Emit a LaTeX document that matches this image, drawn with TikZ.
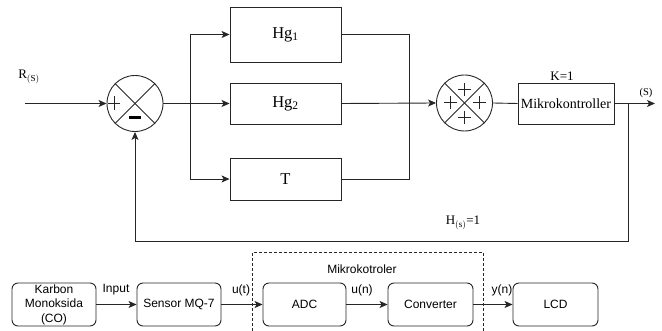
\documentclass[tikz,border=0pt]{standalone}
\usepackage{fontspec}
\setmainfont{Liberation Serif}
\setsansfont{Liberation Sans}
\usetikzlibrary{arrows.meta}
\tikzset{
  line/.style={line width=0.9pt, draw=black!85},
  arr/.style={line, -{Stealth[length=8pt,width=7pt,inset=2pt]}},
  sumc/.style={circle, line, minimum size=56pt, inner sep=0pt},
  tf/.style={rectangle, line, inner sep=0pt, font=\fontsize{16.5}{18}\selectfont},
  rbox/.style={rectangle, rounded corners=6pt, line, minimum width=84pt, minimum height=43pt, inner sep=0pt, align=center, font=\sffamily\fontsize{12}{14.5}\selectfont},
  lbl/.style={inner sep=0pt, font=\sffamily\fontsize{12}{14}\selectfont},
  slbl/.style={inner sep=0pt, font=\fontsize{13}{14}\selectfont},
  pm/.style={line width=1pt, draw=black!85}
}
\begin{document}
\begin{tikzpicture}[x=1pt,y=-1pt]
\useasboundingbox (0,0) rectangle (662,331);
% summing junctions
\node[sumc] (s1) at (135,103.5) {};
\draw[line] (s1.north west) -- (s1.south east);
\draw[line] (s1.north east) -- (s1.south west);
\draw[pm] (114,103.5) ++(-6,0) -- ++(12,0) ++(-6,-7) -- ++(0,14);
\draw[line width=2.2pt] (129,117.5) -- (141,117.5);
\node[sumc] (s2) at (464.5,103) {};
\draw[line] (s2.north west) -- (s2.south east);
\draw[line] (s2.north east) -- (s2.south west);
\draw[pm] (464.5,89.5) ++(-6.5,0) -- ++(13,0) ++(-6.5,-6.5) -- ++(0,13);
\draw[pm] (450,103) ++(-6.5,0) -- ++(13,0) ++(-6.5,-6.5) -- ++(0,13);
\draw[pm] (479,103) ++(-6.5,0) -- ++(13,0) ++(-6.5,-6.5) -- ++(0,13);
\draw[pm] (464.5,117.5) ++(-6.5,0) -- ++(13,0) ++(-6.5,-6.5) -- ++(0,13);
% blocks
\node[tf, minimum width=111pt, minimum height=55pt] (h1) at (285.5,34.5) {Hg$_{\mathrm{1}}$};
\node[tf, minimum width=111pt, minimum height=41pt] (h2) at (285.5,103.5) {Hg$_{\mathrm{2}}$};
\node[tf, minimum width=111pt, minimum height=42pt] (t) at (285.5,179) {T};
\node[rectangle, line, minimum width=96pt, minimum height=41pt, inner sep=0pt, font=\fontsize{14}{15}\selectfont] (mk) at (566,103.5) {Mikrokontroller};
% labels
\node[slbl] (rl) at (29,77) {R$_{\mathrm{(S)}}$};
\node[slbl] (kl) at (562,76) {K=1};
\node[inner sep=0pt, font=\fontsize{10.5}{11}\selectfont] (sl) at (646,93) {(S)};
\node[slbl] (hl) at (463,223) {H$_{\mathrm{(s)}}$=1};
% coordinates
\coordinate (inR) at (25,103.5);
\coordinate (b) at (190,103.5);
\coordinate (m) at (409,103.5);
\coordinate (tk) at (628,103.5);
\coordinate (out) at (655,103.5);
\coordinate (fb) at (628,241);
% connectors
\draw[arr] (inR) -- (s1.west);
\draw[line] (s1.east) -- (b);
\draw[arr] (b) |- (h1.west);
\draw[arr] (b) -- (h2.west);
\draw[arr] (b) |- (t.west);
\draw[line] (h1.east) -| (m);
\draw[line] (t.east) -| (m);
\draw[arr] (h2.east) -- (s2.west);
\draw[line] (s2.east) -- (mk.west);
\draw[arr] (mk.east) -- (out);
\draw[arr] (tk) -- (fb) -| (s1.south);
% bottom
\node[rbox] (co) at (54,304.5) {Karbon\\Monoksida\\(CO)};
\node[rbox] (sen) at (179,304.5) {Sensor MQ-7};
\node[rbox, minimum width=83pt] (adc) at (304.5,304.5) {ADC};
\node[rbox, minimum width=85pt] (conv) at (430.5,304.5) {Converter};
\node[rbox, minimum width=85pt] (lcd) at (555.5,304.5) {LCD};
\draw[arr] (co) -- (sen);
\draw[arr] (sen) -- (adc);
\draw[arr] (adc) -- (conv);
\draw[arr] (conv) -- (lcd);
\node[lbl] (inl) at (116,290) {Input};
\node[lbl] (ut) at (241,290) {u(t)};
\node[lbl] (un) at (362,290) {u(n)};
\node[lbl] (yn) at (502,290) {y(n)};
\node[lbl] (mkl) at (362,269) {Mikrokotroler};
\draw[line, dash pattern=on 3pt off 2pt] (252,331) -- (252,252.5) -- (483,252.5) -- (483,331);
\end{tikzpicture}
\end{document}
